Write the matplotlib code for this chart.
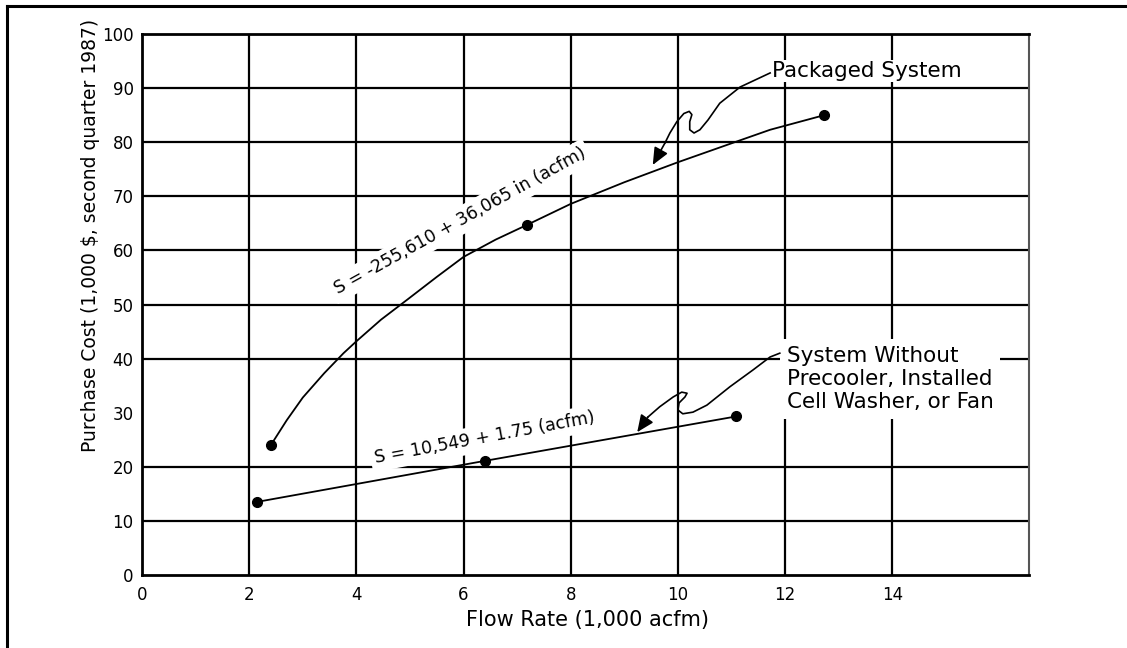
import matplotlib
matplotlib.use("Agg")
import matplotlib.pyplot as plt
from matplotlib.lines import Line2D

# ---- data (x: 1,000 acfm, y: 1,000 $) ----
pkg_pts_x = [2.41, 7.18, 12.73]
pkg_pts_y = [24.1, 64.7, 85.0]
pkg_curve_x = [2.41, 2.7, 3.0, 3.4, 3.76, 4.0, 4.46, 4.95, 5.5, 6.0,
               6.6, 7.18, 8.0, 9.0, 10.0, 11.03, 11.72, 12.73]
pkg_curve_y = [24.1, 28.6, 32.8, 37.3, 41.0, 43.2, 47.2, 50.9, 55.1, 58.8,
               62.0, 64.7, 68.6, 72.6, 76.3, 79.9, 82.3, 85.0]

lin_pts_x = [2.14, 6.40, 11.08]
lin_pts_y = [13.5, 21.1, 29.3]

x_ticks = [0, 2, 4, 6, 8, 10, 12, 14]
y_ticks = [0, 10, 20, 30, 40, 50, 60, 70, 80, 90, 100]
grid_x = [2, 4, 6, 8, 10, 12, 14]
grid_y = [10, 20, 40, 50, 60, 70, 80, 90]   # no line at 30 in the original

# squiggly pointer arrows (data coords)
pkg_arrow_x = [11.72, 11.16, 10.78, 10.56, 10.41, 10.30, 10.22, 10.22, 10.26,
               10.21, 10.11, 9.98, 9.85, 9.76]
pkg_arrow_y = [92.8, 90.2, 87.2, 84.1, 82.3, 81.7, 82.3, 83.8, 85.1,
               85.7, 85.3, 83.8, 81.7, 79.9]
pkg_arrow_tip = (9.53, 75.8)

lin_arrow_x = [11.90, 11.72, 11.40, 10.97, 10.54, 10.28, 10.09, 10.00, 10.02,
               10.13, 10.17, 10.07, 9.91, 9.66, 9.44]
lin_arrow_y = [41.0, 40.3, 37.9, 34.8, 31.4, 30.1, 29.8, 30.5, 31.8,
               32.9, 33.6, 33.8, 32.9, 31.1, 29.2]
lin_arrow_tip = (9.24, 26.4)

W, H = 1127, 648
fig = plt.figure(figsize=(W / 100, H / 100), dpi=100)
ax = fig.add_axes([142 / W, 1 - 575 / H, (1029 - 142) / W, (575 - 34) / H])

ax.set_xlim(0, 16.55)
ax.set_ylim(0, 100)
ax.set_xticks(x_ticks)
ax.set_yticks(y_ticks)
ax.tick_params(axis="both", length=0, labelsize=12)
ax.tick_params(axis="x", pad=8)
ax.tick_params(axis="y", pad=6)

for gx in grid_x:
    ax.axvline(gx, color="black", lw=1.6, zorder=1)
for gy in grid_y:
    ax.axhline(gy, color="black", lw=1.6, zorder=1)

for side in ["left", "bottom", "top"]:
    ax.spines[side].set_linewidth(2)
    ax.spines[side].set_color("black")
ax.spines["right"].set_linewidth(1.5)
ax.spines["right"].set_color("#555555")

# curves and points
ax.plot(pkg_curve_x, pkg_curve_y, color="black", lw=1.3, zorder=5)
ax.plot(pkg_pts_x, pkg_pts_y, "o", color="black", ms=7, zorder=6)
ax.plot(lin_pts_x, lin_pts_y, color="black", lw=1.3, zorder=5)
ax.plot(lin_pts_x, lin_pts_y, "o", color="black", ms=7, zorder=6)

# equations along the curves
box = dict(boxstyle="square,pad=0.25", facecolor="white", edgecolor="none")
ax.text(5.93, 65.4, "S = -255,610 + 36,065 in (acfm)", rotation=29,
        ha="center", va="center", fontsize=12.5, bbox=box, zorder=3)
ax.text(6.4, 25.3, "S = 10,549 + 1.75 (acfm)", rotation=10.5,
        ha="center", va="center", fontsize=12.5, bbox=box, zorder=3)

# callouts
ax.text(11.75, 93.2, "Packaged System", ha="left", va="center", fontsize=15.5,
        bbox=dict(boxstyle="square,pad=0.05", facecolor="white", edgecolor="none"),
        zorder=3)
ax.text(12.03, 36.2, "System Without\nPrecooler, Installed\nCell Washer, or Fan",
        ha="left", va="center", fontsize=15.5, linespacing=1.2,
        bbox=dict(boxstyle="square,pad=0.3", facecolor="white", edgecolor="none"),
        zorder=3)

arrow_props = dict(arrowstyle="-|>,head_length=0.8,head_width=0.35",
                   color="black", lw=1.2, shrinkA=0, shrinkB=0, mutation_scale=13)
ax.plot(pkg_arrow_x, pkg_arrow_y, color="black", lw=1.2, zorder=4)
ax.annotate("", xy=pkg_arrow_tip, xytext=(pkg_arrow_x[-1], pkg_arrow_y[-1]),
            arrowprops=arrow_props, zorder=4)
ax.plot(lin_arrow_x, lin_arrow_y, color="black", lw=1.2, zorder=4)
ax.annotate("", xy=lin_arrow_tip, xytext=(lin_arrow_x[-1], lin_arrow_y[-1]),
            arrowprops=arrow_props, zorder=4)

# axis titles
fig.text(91 / W, 1 - 235 / H, "Purchase Cost (1,000 $, second quarter 1987)",
         rotation=90, ha="center", va="center", fontsize=13.5)
fig.text(587 / W, 1 - 620 / H, "Flow Rate (1,000 acfm)",
         ha="center", va="center", fontsize=15)

# outer frame (left and top edges visible in the scan)
fig.add_artist(Line2D([7 / W, 7 / W], [0, 1 - 6 / H], color="black", lw=2.2,
                      transform=fig.transFigure))
fig.add_artist(Line2D([7 / W, 1], [1 - 6 / H, 1 - 6 / H], color="black", lw=2.2,
                      transform=fig.transFigure))

fig.savefig("out.png", dpi=100)
